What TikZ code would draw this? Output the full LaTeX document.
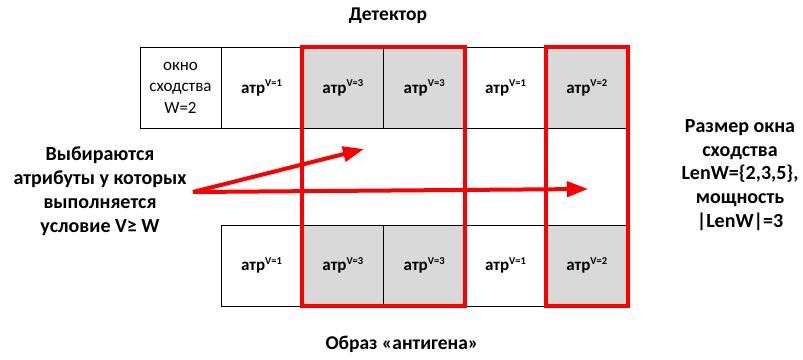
\documentclass[tikz,border=0pt]{standalone}
\usepackage{fontspec}
\setmainfont{Carlito}
\usetikzlibrary{arrows.meta}
\definecolor{cellgray}{RGB}{217,217,217}
\definecolor{selred}{RGB}{250,0,0}
\tikzset{
  cell/.style={draw=black, line width=0.7pt, minimum width=81.3pt, minimum height=81pt, inner sep=0pt, anchor=north west, font=\fontsize{17}{19}\selectfont\bfseries},
  selcell/.style={cell, fill=cellgray},
  selbox/.style={draw=selred, line width=4pt},
  selarrow/.style={draw=selred, line width=4pt, -{Triangle[length=21pt,width=15pt]}},
  label/.style={align=center, font=\fontsize{20}{23.8}\selectfont\bfseries},
  title/.style={font=\fontsize{19.5}{22}\selectfont\bfseries},
}
\newcommand{\atr}[1]{атр\textsuperscript{\fontsize{10.5}{10.5}\selectfont V=#1}}
\begin{document}
\begin{tikzpicture}[x=1pt,y=-1pt]
\useasboundingbox[fill=white] (0,0) rectangle (803,359);
% top row (detector)
\node[cell, font=\fontsize{17}{21.5}\selectfont, align=center] (t0) at (139.5,47) {окно\\сходства\\W=2};
\node[cell] (t1) at (220.8,47) {\atr{1}};
\node[selcell] (t2) at (302.1,47) {\atr{3}};
\node[selcell] (t3) at (383.4,47) {\atr{3}};
\node[cell] (t4) at (464.7,47) {\atr{1}};
\node[selcell] (t5) at (546,47) {\atr{2}};
% bottom row (antigen)
\node[cell] (b1) at (220.8,224.5) {\atr{1}};
\node[selcell] (b2) at (302.1,224.5) {\atr{3}};
\node[selcell] (b3) at (383.4,224.5) {\atr{3}};
\node[cell] (b4) at (464.7,224.5) {\atr{1}};
\node[selcell] (b5) at (546,224.5) {\atr{2}};
% red selection boxes
\draw[selbox] (t2.north west) rectangle (b3.south east);
\draw[selbox] (t5.north west) rectangle (b5.south east);
% labels
\node[title] (det) at (388,16) {Детектор};
\node[title] (ant) at (402,344) {Образ «антигена»};
\node[label] (cond) at (100,191) {Выбираются\\атрибуты у которых\\выполняется\\условие V≥ W};
\node[label] (size) at (740,175) {Размер окна\\сходства\\LenW=\{2,3,5\},\\мощность\\|LenW|=3};
% arrows
\coordinate (src) at (193,192);
\coordinate (tip1) at (364,149);
\coordinate (tip2) at (588,189);
\draw[selarrow] (src) -- (tip1);
\draw[selarrow] (src) -- (tip2);
\end{tikzpicture}
\end{document}
